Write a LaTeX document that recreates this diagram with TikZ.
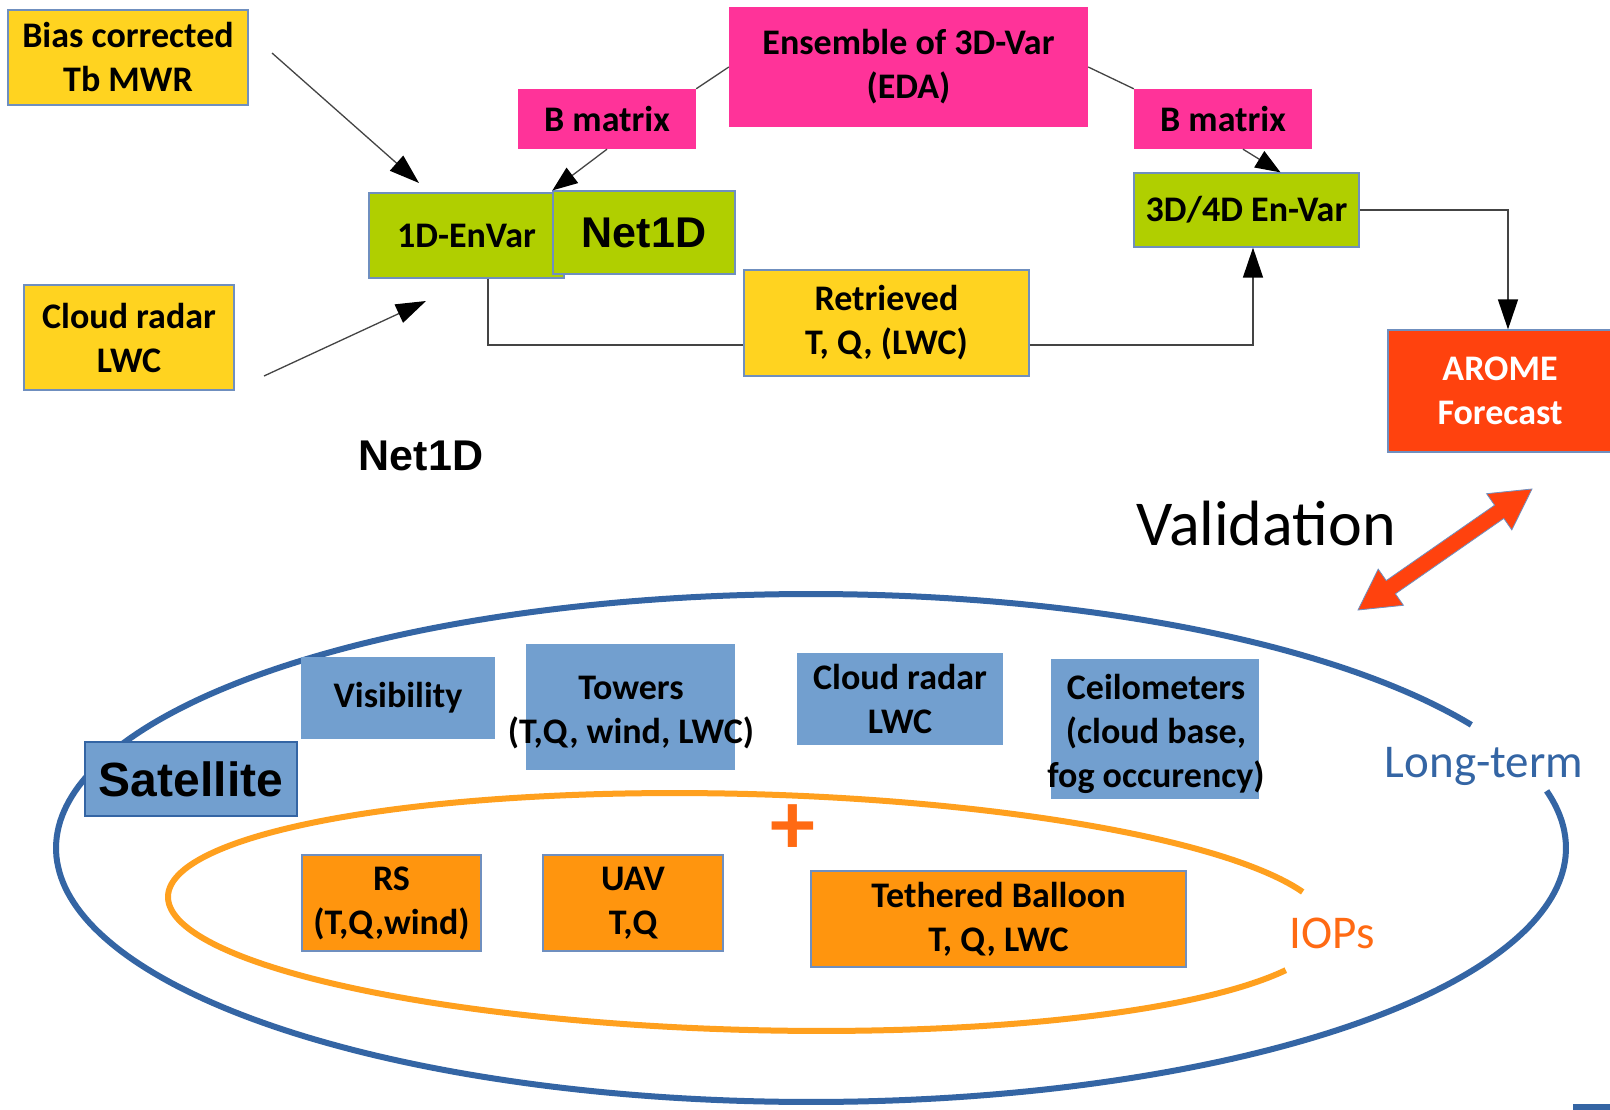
\documentclass[tikz,border=0pt]{standalone}
\usepackage{fontspec}
\setmainfont{Carlito}
\newfontfamily\arialfont{Liberation Sans}
\usetikzlibrary{arrows.meta,calc}
\definecolor{yelbox}{HTML}{FFD320}
\definecolor{pinkbox}{HTML}{FF3399}
\definecolor{greenbox}{HTML}{B0CF00}
\definecolor{aromebox}{HTML}{FF420E}
\definecolor{bluebox}{HTML}{729FCF}
\definecolor{orangebox}{HTML}{FF950E}
\definecolor{blueell}{HTML}{3465A4}
\definecolor{orangeell}{HTML}{FFA01E}
\definecolor{iopcol}{HTML}{FF6A13}
\definecolor{bordcol}{HTML}{6F8FBF}
\definecolor{conncol}{HTML}{444444}
\newcommand{\boxfnt}{\fontsize{36}{44}\selectfont}
\begin{document}
\begin{tikzpicture}[x=1pt,y=-1pt,
  base/.style={inner sep=0pt, align=center, font=\boxfnt\bfseries, text=black},
  ybox/.style={base, draw=bordcol, line width=1.2pt, fill=yelbox},
  pbox/.style={base, fill=pinkbox},
  gbox/.style={base, draw=bordcol, line width=1.2pt, fill=greenbox},
  abox/.style={base, draw=bordcol, line width=1.2pt, fill=aromebox, text=white},
  bbox/.style={base, fill=bluebox},
  obox/.style={base, draw=bordcol, line width=1.2pt, fill=orangebox},
  txt/.style={inner sep=0pt, align=center, font=\boxfnt\bfseries},
  conn/.style={draw=conncol, line width=1.3pt},
  tip/.style={-{Triangle[length=30pt,width=20pt,black]}},
  smalltip/.style={-{Triangle[length=25pt,width=19pt,black]}}
]
\useasboundingbox (0,0) rectangle (1610,1110);
\fill[white] (0,0) rectangle (1610,1110);

% ellipses
\draw[blueell, line width=6pt] plot[domain=-13:331, samples=300]
  ({811+755*cos(\x)},{848+254*sin(\x)});
\draw[orangeell, line width=6pt] plot[domain=22:343, samples=300]
  ({748+580*cos(\x)},{912+118*sin(\x)+15.08*cos(\x)});

% top boxes
\node[ybox, minimum width=240, minimum height=95] (bias) at (128,57.5) {Bias corrected\\Tb MWR};
\node[ybox, minimum width=210, minimum height=105] (crad1) at (129,337.5) {Cloud radar\\LWC};
\node[gbox, minimum width=195, minimum height=85] (envar) at (466.5,235.5) {1D-EnVar};
\node[gbox, minimum width=182, minimum height=83, font=\arialfont\fontsize{43}{50}\selectfont\bfseries] (net) at (644,232.5) {Net1D};
\node[pbox, minimum width=178, minimum height=60] (bml) at (607,119) {B matrix};
\node[pbox, minimum width=359, minimum height=120] (ens) at (908.5,67) {Ensemble of 3D-Var\\(EDA)};
\node[pbox, minimum width=178, minimum height=60] (bmr) at (1223,119) {B matrix};
\node[gbox, minimum width=225, minimum height=74] (v3d) at (1246.5,210) {3D/4D En-Var};
\node[ybox, minimum width=285, minimum height=106] (ret) at (886.5,323) {Retrieved\\T, Q, (LWC)};
\node[abox, minimum width=224, minimum height=122] (arome) at (1500,391) {AROME\\Forecast};

\node[inner sep=0pt, anchor=base, font=\arialfont\fontsize{43}{50}\selectfont\bfseries] (net2) at (421,470) {Net1D};
\node[inner sep=0pt, anchor=base, font=\fontsize{64}{70}\selectfont] (valid) at (1266,545) {Validation};

% connectors top
\coordinate (biasout) at (272,53);
\coordinate (biasin) at (419,183);
\coordinate (cradout) at (264,376);
\coordinate (cradin) at (426,301);
\draw[conn, tip] (biasout) -- (biasin);
\draw[conn, tip] (cradout) -- (cradin);
\draw[conn] (ens.west) -- (bml.north east);
\draw[conn] (ens.east) -- (bmr.north west);
\draw[conn, smalltip] (bml.south) -- (net.north west);
\draw[conn, smalltip] ([xshift=20pt]bmr.south) -- ([xshift=34pt]v3d.north);
\draw[conn] ([xshift=21.5pt]envar.south) |- ([yshift=-22pt]ret.west);
\draw[conn, tip] ([yshift=-22pt]ret.east) -| ([xshift=6.5pt]v3d.south);
\draw[conn, tip] (v3d.east) -| ([xshift=8pt]arome.north);

% validation double arrow
\filldraw[fill=aromebox, draw=bordcol, line width=0.8pt]
  (1358,610) -- (1403.4,605.3) -- (1395.4,593.8) -- (1503.8,518.4) -- (1511.8,529.9)
  -- (1532,489) -- (1486.6,493.7) -- (1494.6,505.2) -- (1386.2,580.6) -- (1378.2,569.1) -- cycle;

% bottom boxes
\node[bbox, minimum width=194, minimum height=82] (vis) at (398,698) {Visibility};
\node[bbox, minimum width=209, minimum height=126] (tow) at (630.5,707) {};
\node[txt] (towtxt) at (631,713) {Towers\\(T,Q, wind, LWC)};
\node[bbox, minimum width=206, minimum height=92] (crad2) at (900,699) {Cloud radar\\LWC};
\node[bbox, minimum width=208, minimum height=140] (ceil) at (1155,729) {};
\node[txt] (ceiltxt) at (1156,734) {Ceilometers\\(cloud base,\\fog occurency)};
\node[bbox, draw=blueell, line width=1.2pt, minimum width=212, minimum height=74,
  font=\arialfont\fontsize{48}{56}\selectfont\bfseries] (sat) at (191,779) {Satellite};

\node[obox, minimum width=179, minimum height=96] (rs) at (391.5,903) {RS\\(T,Q,wind)};
\node[obox, minimum width=180, minimum height=96] (uav) at (633,903) {UAV\\T,Q};
\node[obox, minimum width=375, minimum height=96] (teth) at (998.5,919) {Tethered Balloon\\T, Q, LWC};

\node[inner sep=0pt, text=iopcol, font=\fontsize{90}{90}\selectfont\bfseries] (plus) at (793,830) {+};
\node[inner sep=0pt, anchor=base, text=blueell, font=\fontsize{47}{52}\selectfont] (lt) at (1484,777) {Long-term};
\node[inner sep=0pt, anchor=base, text=iopcol, font=\fontsize{47}{52}\selectfont] (iop) at (1332,948) {IOPs};

\fill[blueell] (1573,1104) rectangle (1610,1110);
\end{tikzpicture}
\end{document}
